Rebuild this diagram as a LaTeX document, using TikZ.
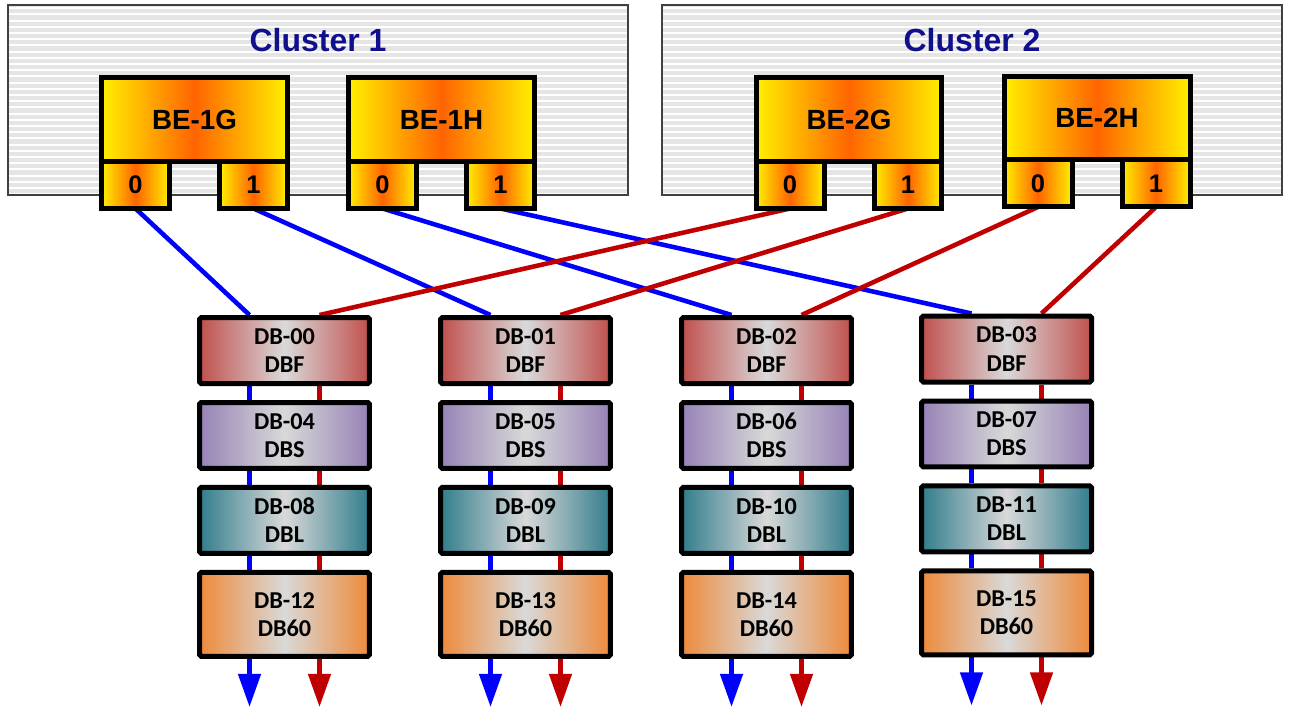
\documentclass[tikz,border=0pt]{standalone}
\usepackage{fontspec}
\setmainfont{Liberation Sans}
\newfontfamily\calibri{Carlito}
\usetikzlibrary{calc, arrows.meta, backgrounds, positioning}

\definecolor{clustertext}{RGB}{16,16,140}
\definecolor{beyellow}{RGB}{255,240,0}
\definecolor{beorange}{RGB}{255,100,0}
\definecolor{dbgray}{RGB}{217,217,217}
\definecolor{dbfred}{RGB}{192,80,77}
\definecolor{dbspurple}{RGB}{150,130,182}
\definecolor{dblteal}{RGB}{49,125,140}
\definecolor{dbsixtyorange}{RGB}{238,138,58}
\definecolor{linkblue}{RGB}{0,0,255}
\definecolor{linkred}{RGB}{192,0,0}

\tikzstyle{cluster} = [rectangle, draw=black!75, line width=0.8pt, fill=black!10, minimum width=12.4cm, minimum height=3.8cm,
  path picture={\foreach \k in {1,...,31} \draw[white, line width=1.1pt] ($(path picture bounding box.north west)+(0,\k*6.2-3)$) -- ++(640,0);}]
\tikzstyle{clustertitle} = [text=clustertext, font=\bfseries\fontsize{18.2}{22}\selectfont]
\tikzstyle{betop} = [rectangle, draw, line width=0.1cm, outer sep=0pt, left color=beyellow, right color=beyellow, middle color=beorange,
  minimum width=3.72cm, minimum height=1.68cm, font=\bfseries\fontsize{15.8}{18}\selectfont]
\tikzstyle{beport} = [rectangle, draw, line width=0.1cm, outer sep=0pt, left color=beyellow, right color=beyellow, middle color=beorange,
  minimum width=1.36cm, minimum height=0.94cm, font=\bfseries\fontsize{14.5}{16}\selectfont]
\tikzstyle{dbbox} = [rectangle, draw, line width=0.1cm, rounded corners=1pt, align=center, minimum width=3.4cm, minimum height=1.32cm,
  font=\calibri\bfseries\fontsize{13.8}{16}\selectfont]
\tikzstyle{dbf} = [left color=dbfred, right color=dbfred, middle color=dbgray]
\tikzstyle{dbs} = [left color=dbspurple, right color=dbspurple, middle color=dbgray]
\tikzstyle{dbl} = [left color=dblteal, right color=dblteal, middle color=dbgray]
\tikzstyle{dbsixty} = [left color=dbsixtyorange, right color=dbsixtyorange, middle color=dbgray, minimum height=1.68cm]
\tikzstyle{bluelink} = [draw=linkblue, line width=2.6pt]
\tikzstyle{redlink} = [draw=linkred, line width=2.6pt]
\tikzstyle{bigtip} = [-{Triangle[length=0.66cm, width=0.44cm]}]

\begin{document}
\begin{tikzpicture}[x=0.02cm, y=-0.02cm, node distance=0.28cm]
        \useasboundingbox (0,0) rectangle (1290,714);

        \node[cluster] at (318, 100) (cluster1) {};
        \node[cluster] at (972, 100) (cluster2) {};
        \node[clustertitle] at (318, 40) (title1) {Cluster 1};
        \node[clustertitle] at (972, 40) (title2) {Cluster 2};

        \node[betop] at (194.5, 119.5) (be1g) {BE-1G};
        \node[beport, anchor=north west] at (be1g.south west) (be1g0) {0};
        \node[beport, anchor=north east] at (be1g.south east) (be1g1) {1};
        \node[betop] at (441.5, 119.5) (be1h) {BE-1H};
        \node[beport, anchor=north west] at (be1h.south west) (be1h0) {0};
        \node[beport, anchor=north east] at (be1h.south east) (be1h1) {1};
        \node[betop] at (849, 119.5) (be2g) {BE-2G};
        \node[beport, anchor=north west] at (be2g.south west) (be2g0) {0};
        \node[beport, anchor=north east] at (be2g.south east) (be2g1) {1};
        \node[betop] at (1097, 118) (be2h) {BE-2H};
        \node[beport, anchor=north west] at (be2h.south west) (be2h0) {0};
        \node[beport, anchor=north east] at (be2h.south east) (be2h1) {1};

        \node[dbbox, dbf] at (284.5, 350.5) (db00) {DB-00\\DBF};
        \node[dbbox, dbs, below=of db00] (db04) {DB-04\\DBS};
        \node[dbbox, dbl, below=of db04] (db08) {DB-08\\DBL};
        \node[dbbox, dbsixty, below=of db08] (db12) {DB-12\\DB60};

        \node[dbbox, dbf] at (525.5, 350.5) (db01) {DB-01\\DBF};
        \node[dbbox, dbs, below=of db01] (db05) {DB-05\\DBS};
        \node[dbbox, dbl, below=of db05] (db09) {DB-09\\DBL};
        \node[dbbox, dbsixty, below=of db09] (db13) {DB-13\\DB60};

        \node[dbbox, dbf] at (766.5, 350.5) (db02) {DB-02\\DBF};
        \node[dbbox, dbs, below=of db02] (db06) {DB-06\\DBS};
        \node[dbbox, dbl, below=of db06] (db10) {DB-10\\DBL};
        \node[dbbox, dbsixty, below=of db10] (db14) {DB-14\\DB60};

        \node[dbbox, dbf] at (1006.5, 349) (db03) {DB-03\\DBF};
        \node[dbbox, dbs, below=of db03] (db07) {DB-07\\DBS};
        \node[dbbox, dbl, below=of db07] (db11) {DB-11\\DBL};
        \node[dbbox, dbsixty, below=of db11] (db15) {DB-15\\DB60};

        \begin{scope}[on background layer]
        \draw[bluelink] (be1g0.south) -- ([xshift=-0.7cm]db00.north);
        \draw[bluelink] (be1g1.south) -- ([xshift=-0.7cm]db01.north);
        \draw[bluelink] (be1h0.south) -- ([xshift=-0.7cm]db02.north);
        \draw[bluelink] (be1h1.south) -- ([xshift=-0.7cm]db03.north);
        \draw[redlink] (be2g0.south) -- ([xshift=0.7cm]db00.north);
        \draw[redlink] (be2g1.south) -- ([xshift=0.7cm]db01.north);
        \draw[redlink] (be2h0.south) -- ([xshift=0.7cm]db02.north);
        \draw[redlink] (be2h1.south) -- ([xshift=0.7cm]db03.north);

        \foreach \a/\b in {db00/db04, db04/db08, db08/db12, db01/db05, db05/db09, db09/db13,
                           db02/db06, db06/db10, db10/db14, db03/db07, db07/db11, db11/db15} {
            \draw[bluelink] ([xshift=-0.7cm]\a.south) -- ([xshift=-0.7cm]\b.north);
            \draw[redlink] ([xshift=0.7cm]\a.south) -- ([xshift=0.7cm]\b.north);
        }
        \foreach \a in {db12, db13, db14, db15} {
            \draw[bluelink, bigtip] ([xshift=-0.7cm]\a.south) -- ++(0, 48);
            \draw[redlink, bigtip] ([xshift=0.7cm]\a.south) -- ++(0, 48);
        }
        \end{scope}
    \end{tikzpicture}
\end{document}
